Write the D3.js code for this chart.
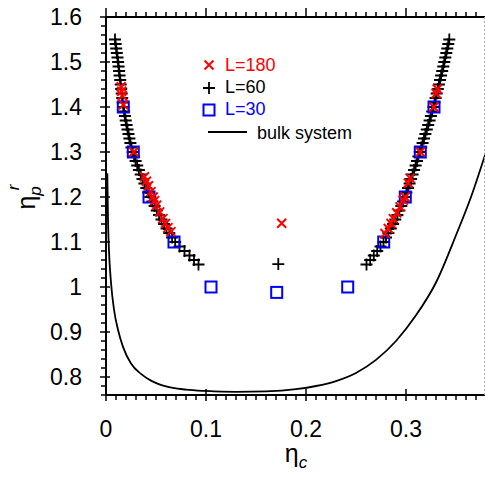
<!DOCTYPE html>
<html><head><meta charset="utf-8">
<script src="https://cdn.jsdelivr.net/npm/d3@7"></script>
<style>body{margin:0;background:#fff}svg{display:block}text{font-family:"Liberation Sans",Arial,Helvetica,sans-serif}</style>
</head><body><svg id="c" width="485" height="480"></svg>
<script>
// L=60 (black +)
const l60LeftY = [1.55,1.54,1.53,1.52,1.51,1.50,1.49,1.48,1.47,1.46,1.45,1.44,1.43,1.42,1.41,1.40,1.39,1.38,1.37,1.36,1.35,1.34,1.33,1.32,1.31,1.30,1.29,1.28,1.27,1.26,1.25,1.24,1.23,1.22,1.21,1.20,1.19,1.18,1.17,1.16,1.15,1.14,1.13,1.12,1.11,1.10,1.09,1.08,1.07,1.06,1.05];
const l60LeftX = [.0090,.0096,.0102,.0108,.0115,.0121,.0126,.0131,.0136,.0142,.0147,.0152,.0157,.0162,.0167,.0173,.0181,.0189,.0197,.0206,.0215,.0225,.0234,.0244,.0255,.0267,.0281,.0296,.0312,.0329,.0347,.0365,.0384,.0403,.0423,.0443,.0464,.0486,.0508,.0531,.0555,.0580,.0606,.0633,.0661,.0692,.0735,.0785,.0835,.0880,.0925];
const l60RightY = l60LeftY;
const l60RightX = [.3433,.3423,.3413,.3403,.3393,.3383,.3373,.3362,.3351,.3340,.3329,.3318,.3307,.3296,.3285,.3275,.3262,.3249,.3236,.3222,.3208,.3194,.3180,.3166,.3152,.3138,.3124,.3110,.3096,.3081,.3066,.3051,.3036,.3020,.3004,.2988,.2971,.2953,.2934,.2914,.2893,.2871,.2848,.2824,.2800,.2775,.2745,.2712,.2678,.2642,.2605];
const l60MidX = [0.1723], l60MidY = [1.051];
// L=180 (red x)
const l180LeftY = [1.445,1.435,1.425,1.405,1.300,1.245,1.235,1.225,1.212,1.200,1.192,1.182,1.167,1.152,1.141,1.132,1.123];
const l180LeftX = [.0152,.0157,.0163,.0175,.0278,.0385,.0404,.0425,.0450,.0472,.0487,.0507,.0537,.0568,.0595,.0620,.0650];
const l180RightY = [1.44,1.43,1.40,1.30,1.242,1.231,1.20,1.193,1.178,1.165,1.152,1.141,1.130,1.119];
const l180RightX = [.3313,.3302,.3278,.3143,.3040,.3023,.2990,.2973,.2940,.2907,.2873,.2850,.2823,.2790];
const l180MidX = [0.1757], l180MidY = [1.1415];
// L=30 (blue squares)
const l30X = [0.0173,0.0273,0.043,0.068,0.105,0.1707,0.2417,0.2777,0.2993,0.3143,0.328];
const l30Y = [1.40,1.30,1.20,1.10,1.00,0.988,1.00,1.10,1.20,1.30,1.40];
// bulk system (line)
const bulkX = [0.0013,0.002,0.003,0.005,0.008,0.012,0.017,0.025,0.035,0.045,0.06,0.08,0.10,0.13,0.16,0.19,0.21,0.23,0.25,0.27,0.29,0.31,0.33,0.35,0.365,0.38];
const bulkY = [1.253,1.15,1.08,1.01,0.95,0.905,0.867,0.83,0.807,0.792,0.779,0.772,0.769,0.767,0.768,0.773,0.78,0.791,0.809,0.838,0.88,0.937,1.01,1.115,1.2,1.30];
// ticks
const xTicks = [0, 0.1, 0.2, 0.3];
const xTickLabels = ["0","0.1","0.2","0.3"];
const yTicks = [0.8,0.9,1.0,1.1,1.2,1.3,1.4,1.5,1.6];
const yTickLabels = ["0.8","0.9","1","1.1","1.2","1.3","1.4","1.5","1.6"];
const legendLabels = ["L=180","L=60","L=30","bulk system"];

const svg = d3.select("#c");
const L = 106, R = 486, T = 17, B = 395;
const x = d3.scaleLinear().domain([0, 0.38]).range([L, R]);
const y = d3.scaleLinear().domain([0.76, 1.6]).range([B, T]);

const zip = (a, b) => a.map((v, i) => [v, b[i]]);

// bulk line
svg.append("path")
  .datum(zip(bulkX, bulkY))
  .attr("fill", "none").attr("stroke", "#000").attr("stroke-width", 1.8)
  .attr("d", d3.line().x(d => x(d[0])).y(d => y(d[1])).curve(d3.curveMonotoneX));

const plusPath = "M-6,0H6M0,-6V6";
const xPath = "M-4.5,-4.5L4.5,4.5M-4.5,4.5L4.5,-4.5";

const l60 = zip(l60LeftX, l60LeftY).concat(zip(l60MidX, l60MidY), zip(l60RightX, l60RightY));
svg.append("g").selectAll("path").data(l60).join("path")
  .attr("d", plusPath).attr("stroke", "#000").attr("stroke-width", 1.8).attr("fill", "none")
  .attr("transform", d => `translate(${x(d[0])},${y(d[1])})`);

const l30 = zip(l30X, l30Y);
svg.append("g").selectAll("rect").data(l30).join("rect")
  .attr("x", d => x(d[0]) - 5.5).attr("y", d => y(d[1]) - 5.5)
  .attr("width", 11).attr("height", 11)
  .attr("fill", "none").attr("stroke", "#0000ff").attr("stroke-width", 2);

const l180 = zip(l180LeftX, l180LeftY).concat(zip(l180MidX, l180MidY), zip(l180RightX, l180RightY));
svg.append("g").selectAll("path").data(l180).join("path")
  .attr("d", xPath).attr("stroke", "#ff0000").attr("stroke-width", 2).attr("fill", "none")
  .attr("transform", d => `translate(${x(d[0])},${y(d[1])})`);

// frame
svg.append("line").attr("x1", L).attr("x2", L).attr("y1", T).attr("y2", B).attr("stroke", "#000").attr("stroke-width", 2);
svg.append("line").attr("x1", L).attr("x2", 485).attr("y1", B).attr("y2", B).attr("stroke", "#000").attr("stroke-width", 2);
svg.append("line").attr("x1", L).attr("x2", 485).attr("y1", T).attr("y2", T).attr("stroke", "#000").attr("stroke-width", 2);
svg.append("line").attr("x1", 484.5).attr("x2", 484.5).attr("y1", T).attr("y2", B).attr("stroke", "#aaa").attr("stroke-width", 1).attr("stroke-dasharray", "2,2");

// minor/major ticks
const xMinor = d3.range(0, 0.3801, 0.01);
const yMinor = d3.range(0.76, 1.6001, 0.02);
const tk = svg.append("g").attr("stroke", "#000").attr("stroke-width", 1.5);
xMinor.forEach(v => {
  const px = x(v);
  if (px > 484) return;
  const major = xTicks.some(t => Math.abs(t - v) < 1e-6);
  tk.append("line").attr("x1", px).attr("x2", px).attr("y1", B - (major ? 6 : 0)).attr("y2", B + (major ? 6 : 5));
  tk.append("line").attr("x1", px).attr("x2", px).attr("y1", T - (major ? 9 : 5)).attr("y2", T);
});
yMinor.forEach(v => {
  const py = y(v);
  const major = yTicks.some(t => Math.abs(t - v) < 1e-6);
  tk.append("line").attr("x1", L - (major ? 6 : 5)).attr("x2", L + (major ? 4 : 0)).attr("y1", py).attr("y2", py);
});

// tick labels
svg.append("g").selectAll("text").data(xTicks).join("text")
  .attr("x", d => x(d)).attr("y", 437).attr("text-anchor", "middle")
  .attr("font-size", 23).text((d, i) => xTickLabels[i]);
svg.append("g").selectAll("text").data(yTicks).join("text")
  .attr("x", 82).attr("y", d => y(d) + 8).attr("text-anchor", "end")
  .attr("font-size", 23).text((d, i) => yTickLabels[i]);

// axis titles
const xt = svg.append("text").attr("x", 296).attr("y", 462).attr("text-anchor", "middle").attr("font-size", 25);
xt.append("tspan").text("η");
xt.append("tspan").attr("font-size", 17).attr("font-style", "italic").attr("dy", 6).text("c");

const yt = svg.append("text").attr("transform", "translate(35,197) rotate(-90)").attr("text-anchor", "middle").attr("font-size", 25);
yt.append("tspan").text("η");
yt.append("tspan").attr("font-size", 17).attr("font-style", "italic").attr("dy", 6).text("p");
yt.append("tspan").attr("font-size", 17).attr("font-style", "italic").attr("dx", -4).attr("dy", -22).text("r");

// legend
const lg = svg.append("g");
lg.append("path").attr("d", xPath).attr("transform", "translate(209,65)").attr("stroke", "#ff0000").attr("stroke-width", 2).attr("fill", "none");
lg.append("path").attr("d", plusPath).attr("transform", "translate(209,88)").attr("stroke", "#000").attr("stroke-width", 1.8).attr("fill", "none");
lg.append("rect").attr("x", 203.5).attr("y", 104.5).attr("width", 11).attr("height", 11).attr("stroke", "#0000ff").attr("stroke-width", 2).attr("fill", "none");
lg.append("line").attr("x1", 208).attr("x2", 247).attr("y1", 132).attr("y2", 132).attr("stroke", "#000").attr("stroke-width", 1.8);
const lgColors = ["#ff0000", "#000", "#0000ff", "#000"];
const lgX = [225, 225, 225, 257];
const lgY = [71, 93, 115, 139];
lg.selectAll("text").data(legendLabels).join("text")
  .attr("x", (d, i) => lgX[i]).attr("y", (d, i) => lgY[i]).attr("fill", (d, i) => lgColors[i])
  .attr("font-size", 18).text(d => d);
</script></body></html>
